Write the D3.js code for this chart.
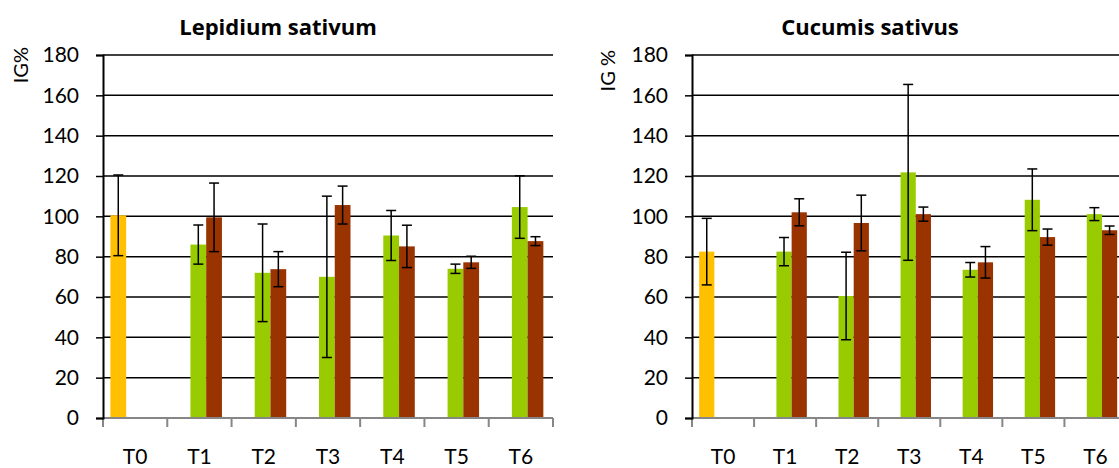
<!DOCTYPE html>
<html>
<head>
<meta charset="utf-8">
<script src="https://cdn.jsdelivr.net/npm/d3@7"></script>
<style>
  body { margin: 0; background: #fff; }
  svg text { font-family: Lato, "Noto Sans", sans-serif; fill: #000; }
  svg text.title { font-family: "Open Sans", Lato, sans-serif; }
</style>
</head>
<body>
<div id="chart"></div>
<script>
// IG% per treatment, two test species

const categories = ["T0", "T1", "T2", "T3", "T4", "T5", "T6"];
const series = ["control", "a", "b"];
const yTicks = [0, 20, 40, 60, 80, 100, 120, 140, 160, 180];

// Lepidium sativum
const lepControl = [100.5, null, null, null, null, null, null];
const lepControlErr = [20, null, null, null, null, null, null];
const lepA = [null, 86, 72, 70, 90.5, 74, 104.6];
const lepAErr = [null, 9.7, 24.2, 40, 12.4, 2.3, 15.5];
const lepB = [null, 99.5, 73.8, 105.6, 85.1, 77.2, 87.7];
const lepBErr = [null, 17, 8.7, 9.4, 10.5, 3, 2.2];

// Cucumis sativus
const cucControl = [82.5, null, null, null, null, null, null];
const cucControlErr = [16.5, null, null, null, null, null, null];
const cucA = [null, 82.5, 60.5, 121.8, 73.5, 108.2, 101.1];
const cucAErr = [null, 7, 21.7, 43.6, 3.6, 15.3, 3.2];
const cucB = [null, 102, 96.7, 101.1, 77.2, 89.7, 93.1];
const cucBErr = [null, 6.7, 13.8, 3.5, 7.8, 4, 2.1];

const colors = { control: "#FFC000", a: "#99CC00", b: "#993300" };

const width = 1119, height = 468;

const svg = d3.select("#chart").append("svg")
    .attr("width", width)
    .attr("height", height);

function rows(ctrl, ctrlErr, a, aErr, b, bErr) {
    let out = [];
    categories.forEach((c, i) => {
        if (ctrl[i] != null) out.push({ cat: c, s: "control", v: ctrl[i], e: ctrlErr[i] });
        if (a[i] != null) out.push({ cat: c, s: "a", v: a[i], e: aErr[i] });
        if (b[i] != null) out.push({ cat: c, s: "b", v: b[i], e: bErr[i] });
    });
    return out;
}

function drawPanel(opt) {
    const g = svg.append("g");

    const y = d3.scaleLinear().domain([0, 180]).range([418, 55]);
    const x0 = d3.scaleBand().domain(categories).range([opt.left, opt.right]);
    const bw = x0.bandwidth();
    const x1 = d3.scaleBand().domain(series).range([bw * 0.115, bw * 0.85]);

    // gridlines
    g.selectAll("line.grid")
        .data(yTicks.filter(t => t > 0))
        .join("line")
        .attr("class", "grid")
        .attr("x1", opt.left)
        .attr("x2", opt.gridEnd)
        .attr("y1", d => y(d))
        .attr("y2", d => y(d))
        .attr("stroke", "#000")
        .attr("stroke-width", 1.5);

    // bars
    const data = rows(...opt.data);
    g.selectAll("rect.bar")
        .data(data)
        .join("rect")
        .attr("class", "bar")
        .attr("x", d => x0(d.cat) + x1(d.s))
        .attr("width", x1.bandwidth())
        .attr("y", d => y(d.v))
        .attr("height", d => y(0) - y(d.v))
        .attr("fill", d => colors[d.s]);

    // x axis line + boundary ticks
    g.append("line")
        .attr("x1", opt.left).attr("x2", opt.gridEnd)
        .attr("y1", y(0)).attr("y2", y(0))
        .attr("stroke", "#868686").attr("stroke-width", 2);
    const bounds = categories.map(c => x0(c)).concat([opt.right]).filter(v => v <= width);
    g.selectAll("line.xt")
        .data(bounds)
        .join("line")
        .attr("class", "xt")
        .attr("x1", d => d).attr("x2", d => d)
        .attr("y1", y(0)).attr("y2", y(0) + 9)
        .attr("stroke", "#868686").attr("stroke-width", 2);

    // category labels
    const xAxis = g.append("g")
        .attr("transform", `translate(0,${y(0)})`)
        .call(d3.axisBottom(x0).tickSize(0).tickPadding(31));
    xAxis.select(".domain").remove();
    xAxis.selectAll("text").style("font-size", "21px").attr("font-family", null);

    // error bars
    const eb = g.selectAll("g.err")
        .data(data)
        .join("g")
        .attr("class", "err")
        .attr("stroke", "#000")
        .attr("stroke-width", 1.5);
    const cx = d => x0(d.cat) + x1(d.s) + x1.bandwidth() / 2;
    eb.append("line")
        .attr("x1", cx).attr("x2", cx)
        .attr("y1", d => y(d.v + d.e)).attr("y2", d => y(d.v - d.e));
    eb.append("line")
        .attr("x1", d => cx(d) - 5).attr("x2", d => cx(d) + 5)
        .attr("y1", d => y(d.v + d.e)).attr("y2", d => y(d.v + d.e));
    eb.append("line")
        .attr("x1", d => cx(d) - 5).attr("x2", d => cx(d) + 5)
        .attr("y1", d => y(d.v - d.e)).attr("y2", d => y(d.v - d.e));

    // y axis
    const yAxis = g.append("g")
        .attr("transform", `translate(${opt.left},0)`)
        .call(d3.axisLeft(y).tickValues(yTicks).tickSize(7).tickPadding(17));
    yAxis.select(".domain").attr("stroke", "#000").attr("stroke-width", 2);
    yAxis.selectAll(".tick line").attr("stroke", "#000").attr("stroke-width", 1.5);
    yAxis.selectAll("text").style("font-size", "21px").attr("font-family", null);

    // title
    g.append("text")
        .attr("class", "title")
        .attr("x", opt.titleX)
        .attr("y", 35)
        .attr("text-anchor", "middle")
        .attr("font-size", 22)
        .attr("font-weight", "bold")
        .text(opt.title);

    // y label
    g.append("text")
        .attr("transform", `translate(${opt.labelX},${opt.labelTop}) rotate(-90)`)
        .attr("text-anchor", "end")
        .attr("font-size", 20)
        .text(opt.yLabel);
}

drawPanel({
    title: "Lepidium sativum", yLabel: "IG%",
    left: 103, right: 553, gridEnd: 553,
    titleX: 278, labelX: 28, labelTop: 47,
    data: [lepControl, lepControlErr, lepA, lepAErr, lepB, lepBErr]
});

drawPanel({
    title: "Cucumis sativus", yLabel: "IG %",
    left: 692, right: 1126.5, gridEnd: 1119,
    titleX: 870, labelX: 615, labelTop: 50,
    data: [cucControl, cucControlErr, cucA, cucAErr, cucB, cucBErr]
});
</script>
</body>
</html>
